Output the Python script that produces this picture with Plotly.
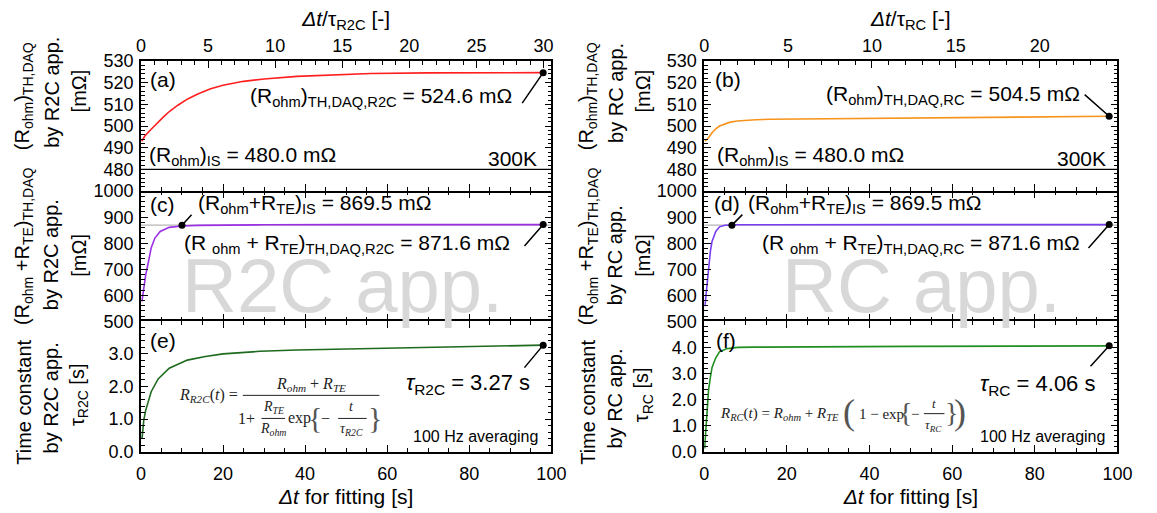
import plotly.graph_objects as go

W, H = 1157, 513
FONT = "Liberation Sans, Arial, sans-serif"
SERIF = "Liberation Serif, Times New Roman, serif"

# ---------------- data ----------------
t_a = [0.2, 1.0, 2.5, 4.0, 5.5, 7.0, 9.0, 11.5, 14.0, 17.0, 20.0, 25.0, 30.0, 38.0, 47.0, 56.0, 70.0, 85.0, 98.0]
R_a = [493.0, 495.5, 498.5, 501.5, 504.2, 506.8, 509.6, 512.6, 514.9, 517.2, 518.8, 520.6, 521.7, 522.9, 523.7, 524.2, 524.5, 524.6, 524.6]

t_b = [0.2, 1.0, 1.9, 2.8, 3.7, 5.0, 6.3, 8.0, 10.0, 12.5, 16.0, 21.0, 30.0, 39.0, 56.0, 74.0, 98.0]
R_b = [493.0, 494.5, 496.9, 498.7, 500.0, 501.0, 501.8, 502.3, 502.7, 502.9, 503.1, 503.2, 503.4, 503.6, 503.9, 504.2, 504.5]

t_c = [0.25, 0.7, 1.15, 1.8, 2.5, 3.4, 4.7, 6.9, 10.0, 14.0, 20.0, 30.0, 50.0, 75.0, 98.0]
R_c = [577, 627, 677, 726, 782, 820, 845, 861, 866, 868.5, 870, 871, 871.4, 871.5, 871.6]

t_d = [0.18, 0.62, 1.06, 1.5, 1.9, 2.8, 3.7, 5.0, 8.0, 15.0, 30.0, 60.0, 98.0]
R_d = [558, 627, 714, 770, 807, 845, 863, 869, 871, 871.3, 871.5, 871.6, 871.6]

t_e = [0.27, 0.7, 1.15, 1.77, 2.5, 4.2, 6.9, 11.3, 15.7, 20.0, 29.0, 38.0, 55.5, 73.0, 98.0]
tau_e = [0.39, 0.97, 1.26, 1.55, 1.84, 2.23, 2.56, 2.81, 2.92, 3.0, 3.08, 3.12, 3.17, 3.22, 3.27]

t_f = [0.1, 0.35, 0.7, 1.05, 1.5, 1.9, 2.8, 3.7, 5.4, 8.1, 12.0, 21.0, 50.0, 98.0]
tau_f = [0.12, 0.75, 1.6, 2.36, 2.86, 3.23, 3.6, 3.83, 3.95, 4.0, 4.01, 4.02, 4.04, 4.06]

R_ohm_IS = 480.0
R_tot_IS = 869.5
t_IS_c = 10.0
t_IS_d = 6.7
tau_R2C = 3.27
tau_RC = 4.06
t_end = 98.0

x_ticks = [0, 20, 40, 60, 80, 100]
ya_ticks = [480, 490, 500, 510, 520, 530]
yc_ticks = [500, 600, 700, 800, 900, 1000]
ye_ticks = [0.0, 1.0, 2.0, 3.0]
yf_ticks = [0.0, 1.0, 2.0, 3.0, 4.0]

# ---------------- layout helpers ----------------
def px(x):
    return x / W

def py(y):
    return 1 - y / H

XL = [px(138.3), px(556)]
XR = [px(711.5), px(1132)]
Y_A = [py(188.5), py(53)]
Y_C = [py(324), py(188.5)]
Y_E = [py(459.5), py(324)]

fig = go.Figure()

def line_trace(x, y, color, xa, ya, width=1.6):
    fig.add_trace(go.Scatter(x=x, y=y, mode="lines", line=dict(color=color, width=width),
                             xaxis=xa, yaxis=ya, showlegend=False, hoverinfo="skip"))

def dot(x, y, xa, ya):
    fig.add_trace(go.Scatter(x=[x], y=[y], mode="markers", marker=dict(color="black", size=7),
                             xaxis=xa, yaxis=ya, showlegend=False, hoverinfo="skip"))

def hline(y, color, xa, ya, width=1.2):
    fig.add_trace(go.Scatter(x=[0, 100], y=[y, y], mode="lines", line=dict(color=color, width=width),
                             xaxis=xa, yaxis=ya, showlegend=False, hoverinfo="skip"))

# reference horizontal lines
hline(R_ohm_IS, "black", "x", "y")
hline(R_ohm_IS, "black", "x2", "y2")
hline(R_tot_IS, "#b5b5b5", "x3", "y3")
hline(R_tot_IS, "#b5b5b5", "x4", "y4")

# curves
line_trace(t_a, R_a, "#ff1f1f", "x", "y")
line_trace(t_b, R_b, "#f7941d", "x2", "y2")
line_trace(t_c, R_c, "#9b2fe6", "x3", "y3")
line_trace(t_d, R_d, "#7a3df0", "x4", "y4")
line_trace(t_e, tau_e, "#1e6a1e", "x5", "y5")
line_trace(t_f, tau_f, "#1f8f1f", "x6", "y6")

# dots
dot(t_end, R_a[-1], "x", "y")
dot(t_end, R_b[-1], "x2", "y2")
dot(t_IS_c, R_tot_IS, "x3", "y3")
dot(t_end, R_c[-1], "x3", "y3")
dot(t_IS_d, R_tot_IS, "x4", "y4")
dot(t_end, R_d[-1], "x4", "y4")
dot(t_end, tau_e[-1], "x5", "y5")
dot(t_end, tau_f[-1], "x6", "y6")

# invisible traces for the top (normalised) axes
fig.add_trace(go.Scatter(x=[0, 100 / tau_R2C], y=[None, None], mode="lines", xaxis="x7", yaxis="y",
                         showlegend=False, hoverinfo="skip"))
fig.add_trace(go.Scatter(x=[0, 100 / tau_RC], y=[None, None], mode="lines", xaxis="x8", yaxis="y2",
                         showlegend=False, hoverinfo="skip"))

tickfont = dict(family=FONT, size=18, color="black")

def xax(domain, anchor, labels, mirror="ticks", showline=True):
    d = dict(domain=domain, anchor=anchor, range=[0, 100], tickvals=x_ticks,
             showticklabels=labels, ticks="inside", ticklen=7, tickwidth=1.2, tickcolor="black",
             showline=showline, linecolor="black", linewidth=1.6, mirror=mirror,
             showgrid=False, zeroline=False, tickfont=tickfont, ticklabelstandoff=5,
             minor=dict(ticks="inside", ticklen=4, tickwidth=1, dtick=5, tickcolor="black", showgrid=False))
    return d

def yax(domain, anchor, rng, tickvals, minor, fmt=None):
    d = dict(domain=domain, anchor=anchor, range=rng, tickvals=tickvals,
             ticks="inside", ticklen=7, tickwidth=1.2, tickcolor="black",
             showline=True, linecolor="black", linewidth=1.6, mirror="ticks",
             showgrid=False, zeroline=False, tickfont=tickfont, ticklabelstandoff=2,
             minor=dict(ticks="inside", ticklen=4, tickwidth=1, dtick=minor, tickcolor="black", showgrid=False))
    if fmt:
        d["tickformat"] = fmt
    return d

def topax(overlay, anchor, rng, title):
    return dict(overlaying=overlay, anchor=anchor, side="top", range=rng, dtick=5, tick0=0,
                ticks="inside", ticklen=7, tickwidth=1.2, tickcolor="black",
                showline=True, linecolor="black", linewidth=1.6,
                showgrid=False, zeroline=False, tickfont=tickfont,
                minor=dict(ticks="inside", ticklen=4, tickwidth=1, dtick=1, tickcolor="black", showgrid=False),
                title=dict(text=title, font=dict(family=FONT, size=21, color="black"), standoff=4))

xtitle = dict(text="<i>Δt</i> for fitting [s]", font=dict(family=FONT, size=21, color="black"), standoff=6)

layout = dict(
    width=W, height=H, margin=dict(l=0, r=0, t=0, b=0),
    paper_bgcolor="white", plot_bgcolor="white", showlegend=False,
    xaxis=xax(XL, "y", False, mirror=True),
    xaxis2=xax(XR, "y2", False, mirror=True),
    xaxis3=xax(XL, "y3", False, showline=False),
    xaxis4=xax(XR, "y4", False, showline=False),
    xaxis5=dict(xax(XL, "y5", True), title=xtitle),
    xaxis6=dict(xax(XR, "y6", True), title=xtitle),
    xaxis7=topax("x", "y", [0, 100 / tau_R2C], "<i>Δt</i>/τ<sub>R2C</sub> [-]"),
    xaxis8=topax("x2", "y2", [0, 100 / tau_RC], "<i>Δt</i>/τ<sub>RC</sub> [-]"),
    yaxis=yax(Y_A, "x", [470, 530], ya_ticks, 2),
    yaxis2=yax(Y_A, "x2", [470, 530], ya_ticks, 2),
    yaxis3=yax(Y_C, "x3", [500, 1000], yc_ticks, 20),
    yaxis4=yax(Y_C, "x4", [500, 1000], yc_ticks, 20),
    yaxis5=yax(Y_E, "x5", [0, 4], ye_ticks, 0.2, ".1f"),
    yaxis6=yax(Y_E, "x6", [0, 5], yf_ticks, 0.2, ".1f"),
)
fig.update_layout(**layout)

anns = []
shapes = []

def txt(x, y, text, size=21, xanchor="left", yanchor="middle", family=FONT, color="black", angle=0, align="left"):
    anns.append(dict(x=px(x), y=py(y), xref="paper", yref="paper", text=text, showarrow=False,
                     xanchor=xanchor, yanchor=yanchor, textangle=angle, align=align,
                     font=dict(family=family, size=size, color=color)))

def leader(xd, yd, xa, ya, ax, ay):
    anns.append(dict(x=xd, y=yd, xref=xa, yref=ya, text="", showarrow=True, arrowhead=0,
                     arrowwidth=1.5, arrowcolor="black", ax=ax, ay=ay, standoff=0, startstandoff=0))

# watermarks
txt(343, 287, "R2C app.", size=76, xanchor="center", color="#d8d8d8")
txt(933, 287, "RC app.", size=76, xanchor="center", color="#d8d8d8")

# panel labels
for (x, y, s) in [(146, 72, "(a)"), (720, 72, "(b)"), (146, 202, "(c)"), (719, 201, "(d)"),
                  (146, 344, "(e)"), (721, 344, "(f)")]:
    txt(x, y, s)

# panel a / b
txt(144, 152, "(R<sub>ohm</sub>)<sub>IS</sub> = 480.0 mΩ")
txt(543, 155, "300K", xanchor="right")
txt(722, 152, "(R<sub>ohm</sub>)<sub>IS</sub> = 480.0 mΩ")
txt(1122, 155, "300K", xanchor="right")
txt(518, 91, "(R<sub>ohm</sub>)<sub>TH,DAQ,R2C</sub> = 524.6 mΩ", xanchor="right")
leader(t_end, R_a[-1], "x", "y", -22, 32)
txt(1096, 88, "(R<sub>ohm</sub>)<sub>TH,DAQ,RC</sub> = 504.5 mΩ", xanchor="right")
leader(t_end, R_b[-1], "x2", "y2", -26, -23)

# panel c / d
txt(194, 202, "(R<sub>ohm</sub>+R<sub>TE</sub>)<sub>IS</sub> = 869.5 mΩ")
leader(t_IS_c, R_tot_IS, "x3", "y3", 11, -12)
txt(516, 244, "(R <sub>ohm</sub> + R<sub>TE</sub>)<sub>TH,DAQ,R2C</sub> = 871.6 mΩ", xanchor="right")
leader(t_end, R_c[-1], "x3", "y3", -20, 23)
txt(754, 202, "(R<sub>ohm</sub>+R<sub>TE</sub>)<sub>IS</sub> = 869.5 mΩ")
leader(t_IS_d, R_tot_IS, "x4", "y4", 12, -12)
txt(1096, 244, "(R <sub>ohm</sub> + R<sub>TE</sub>)<sub>TH,DAQ,RC</sub> = 871.6 mΩ", xanchor="right")
leader(t_end, R_d[-1], "x4", "y4", -22, 25)

# panel e / f
txt(536, 389, "<i>τ</i><sub>R2C</sub> = 3.27 s", size=22, xanchor="right")
leader(t_end, tau_e[-1], "x5", "y5", -20, 24)
txt(1111, 390, "<i>τ</i><sub>RC</sub> = 4.06 s", size=22, xanchor="right")
leader(t_end, tau_f[-1], "x6", "y6", -20, 22)
txt(544, 444, "100 Hz averaging", size=16, xanchor="right")
txt(1121, 444, "100 Hz averaging", size=16, xanchor="right")

# y-axis titles: each line placed on its own (rotated)
def ytxt(x, y, text):
    txt(x, y, text, size=20, xanchor="center", angle=-90, align="center")

for (x1, x2, x3, app, tau) in [(19, 47, 75, "R2C", "R2C"), (593, 621, 649, "RC", "RC")]:
    # panel a/b
    ytxt(x1, 90, "(R<sub>ohm</sub>)<sub>TH,DAQ</sub>")
    ytxt(x2, 86, "by %s app." % app)
    ytxt(x3, 84, "[mΩ]")
    # panel c/d
    ytxt(x1, 246, "(R<sub>ohm</sub> +R<sub>TE</sub>)<sub>TH,DAQ</sub>")
    ytxt(x2, 255, "by %s app." % app)
    ytxt(x3, 255, "[mΩ]")
    # panel e/f
    ytxt(x1, 408, "Time constant")
    ytxt(x2, 404, "by %s app." % app)
    ytxt(x3, 400, "τ<sub>%s</sub> [s]" % tau)

# ---------------- equations ----------------
def bar(x0, x1, y):
    shapes.append(dict(type="line", xref="paper", yref="paper", x0=px(x0), x1=px(x1), y0=py(y), y1=py(y),
                       line=dict(color="#222", width=1)))

EQ = 16
EC = "#222222"
BR = "#555555"
# R2C equation (panel e)
txt(239, 401, "<i>R</i><sub><i>R2C</i></sub>(<i>t</i>) =", size=EQ, xanchor="right", family=SERIF, color=EC)
bar(242, 381, 401)
txt(311, 390, "<i>R</i><sub><i>ohm</i></sub> + <i>R</i><sub><i>TE</i></sub>", size=EQ, xanchor="center", family=SERIF, color=EC)
txt(246, 425, "1+", size=EQ, xanchor="center", family=SERIF, color=EC)
txt(273, 414, "<i>R</i><sub><i>TE</i></sub>", size=EQ - 2, xanchor="center", family=SERIF, color=EC)
bar(261, 285, 425)
txt(273, 437, "<i>R</i><sub><i>ohm</i></sub>", size=EQ - 2, xanchor="center", family=SERIF, color=EC)
txt(300, 425, "exp", size=EQ, xanchor="center", family=SERIF, color=EC)
txt(315, 424, "{", size=30, xanchor="center", family=SERIF, color=BR)
txt(326, 425, "−", size=EQ, xanchor="center", family=SERIF, color=EC)
txt(353, 413, "<i>t</i>", size=EQ - 2, xanchor="center", family=SERIF, color=EC)
bar(339, 368, 425)
txt(353, 437, "<i>τ</i><sub><i>R2C</i></sub>", size=EQ - 2, xanchor="center", family=SERIF, color=EC)
txt(376, 424, "}", size=30, xanchor="center", family=SERIF, color=BR)

# RC equation (panel f)
EQ2 = 15
txt(726, 420, "<i>R</i><sub><i>RC</i></sub>(<i>t</i>) = <i>R</i><sub><i>ohm</i></sub> + <i>R</i><sub><i>TE</i></sub>",
    size=EQ2, xanchor="left", family=SERIF, color=EC)
txt(859, 418, "(", size=36, xanchor="center", family=SERIF, color=BR)
txt(867, 420, "1 − exp", size=EQ2, xanchor="left", family=SERIF, color=EC)
txt(916, 419, "{", size=28, xanchor="center", family=SERIF, color=BR)
txt(926, 420, "−", size=EQ2, xanchor="center", family=SERIF, color=EC)
txt(945, 409, "<i>t</i>", size=EQ2 - 2, xanchor="center", family=SERIF, color=EC)
bar(935, 956, 420)
txt(945, 432, "<i>τ</i><sub><i>RC</i></sub>", size=EQ2 - 2, xanchor="center", family=SERIF, color=EC)
txt(963, 419, "}", size=28, xanchor="center", family=SERIF, color=BR)
txt(972, 418, ")", size=36, xanchor="center", family=SERIF, color=BR)

fig.update_layout(annotations=anns, shapes=shapes)
fig.write_html("out.html")
